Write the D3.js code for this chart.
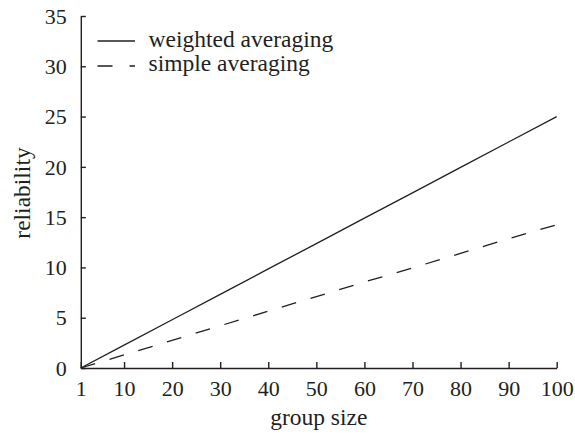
<!DOCTYPE html>
<html>
<head>
<meta charset="utf-8">
<script src="https://cdn.jsdelivr.net/npm/d3@7"></script>
<style>
  html, body { margin: 0; padding: 0; background: #fff; }
  svg { display: block; }
  text { font-family: "Liberation Serif", "Times New Roman", serif; fill: #231f20; }
</style>
</head>
<body>
<svg id="chart" width="575" height="434"></svg>
<script>
// ---- data ----
const groupSize = [1, 10, 20, 30, 40, 50, 60, 70, 80, 90, 100];
const weighted = [0, 2.27, 4.8, 7.32, 9.85, 12.37, 14.9, 17.42, 19.95, 22.47, 25];
const simple   = [0, 1.3, 2.75, 4.2, 5.65, 7.1, 8.55, 9.95, 11.4, 12.85, 14.25];
const xTicks = [1, 10, 20, 30, 40, 50, 60, 70, 80, 90, 100];
const yTicks = [0, 5, 10, 15, 20, 25, 30, 35];
const seriesNames = ["weighted averaging", "simple averaging"];
const xLabel = "group size";
const yLabel = "reliability";

// ---- layout ----
const svg = d3.select("#chart");
const pLeft = 80.8, pRight = 556.7, pTop = 16, pBottom = 368;
const ink = "#231f20";
const serif = '"Liberation Serif", "Times New Roman", serif';

const x = d3.scaleLinear().domain([1, 100]).range([pLeft, pRight]);
const y = d3.scaleLinear().domain([0, 35]).range([pBottom, pTop]);

// axes
const yAxis = d3.axisLeft(y).tickValues(yTicks).tickSizeInner(-5).tickSizeOuter(0).tickPadding(14);
const xAxis = d3.axisBottom(x).tickValues(xTicks).tickSizeInner(-6).tickSizeOuter(0).tickPadding(12);

const gy = svg.append("g").attr("transform", `translate(${pLeft},0)`).call(yAxis);
const gx = svg.append("g").attr("transform", `translate(0,${pBottom})`).call(xAxis);

[gx, gy].forEach(g => {
  g.select(".domain").attr("stroke", ink).attr("stroke-width", 1.4);
  g.selectAll(".tick line").attr("stroke", ink).attr("stroke-width", 1.4);
  g.selectAll(".tick text")
    .style("font-family", serif)
    .style("font-size", "22px").attr("fill", ink);
});
gy.selectAll(".tick text").attr("dy", "0.33em");

// lines
const line = d3.line().x((d, i) => x(groupSize[i])).y(d => y(d));
svg.append("path").datum(weighted)
  .attr("d", line).attr("fill", "none").attr("stroke", ink).attr("stroke-width", 1.3);
svg.append("path").datum(simple)
  .attr("d", line).attr("fill", "none").attr("stroke", ink).attr("stroke-width", 1.3)
  .attr("stroke-dasharray", "15,15");

// legend
const legend = svg.append("g");
const lx0 = 97.5, lx1 = 135, textX = 148.5;
const ly = [41, 66];
legend.append("line").attr("x1", lx0).attr("x2", lx1).attr("y1", ly[0]).attr("y2", ly[0])
  .attr("stroke", ink).attr("stroke-width", 1.3);
legend.append("line").attr("x1", lx0).attr("x2", lx1).attr("y1", ly[1]).attr("y2", ly[1])
  .attr("stroke", ink).attr("stroke-width", 1.3).attr("stroke-dasharray", "15,17");
legend.selectAll("text.leg").data(seriesNames).enter().append("text")
  .attr("class", "leg")
  .attr("x", textX).attr("y", (d, i) => [46.5, 70.5][i])
  .style("font-size", "23.5px").text(d => d);

// axis titles
svg.append("text").attr("x", (pLeft + pRight) / 2).attr("y", 425)
  .attr("text-anchor", "middle").style("font-size", "23.5px").text(xLabel);
svg.append("text").attr("transform", `translate(30,193) rotate(-90)`)
  .attr("text-anchor", "middle").style("font-size", "23.5px").text(yLabel);
</script>
</body>
</html>
